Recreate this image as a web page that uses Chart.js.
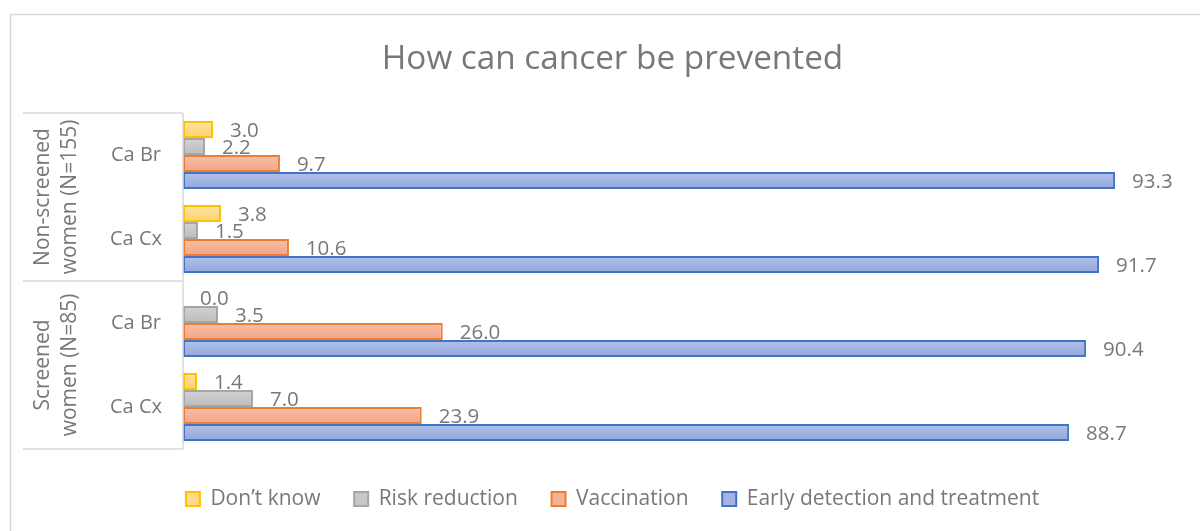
<!DOCTYPE html>
<html>
<head>
<meta charset="utf-8">
<script src="https://cdn.jsdelivr.net/npm/chart.js@4/dist/chart.umd.min.js"></script>
<style>
html,body{margin:0;padding:0;background:#fff;}
#wrap{width:1200px;height:531px;position:relative;}
</style>
</head>
<body>
<div id="wrap"><canvas id="c" width="1200" height="531"></canvas></div>
<script>
const chartTitle = 'How can cancer be prevented';
const categories = ['Ca Br', 'Ca Cx', 'Ca Br', 'Ca Cx'];
const groupLabels = [['Non-screened', 'women (N=155)'], ['Screened', 'women (N=85)']];
const groupSizes = [2, 2];
const seriesNames = ['Don\u2019t know', 'Risk reduction', 'Vaccination', 'Early detection and treatment'];
const dontKnow = [3.0, 3.8, 0.0, 1.4];
const riskReduction = [2.2, 1.5, 3.5, 7.0];
const vaccination = [9.7, 10.6, 26.0, 23.9];
const earlyDetection = [93.3, 91.7, 90.4, 88.7];

const FONT = "'Open Sans', 'DejaVu Sans', sans-serif";
const TXT = '#787878';
const LINE = '#d9d9d9';

const fillTop = ['#FFE3A3', '#D2D2D2', '#F8C0A8', '#B2C2E9'];
const fillBottom = ['#FFD26E', '#BCBCBC', '#F2A387', '#91A7DB'];
const fills = ['#FFDA88', '#C8C8C8', '#F5B298', '#A2B4E2'];
const borders = ['#FFC000', '#A5A5A5', '#ED7D31', '#4472C4'];
const values = [dontKnow, riskReduction, vaccination, earlyDetection];

function barGradient(ctx, di) {
  const chart = ctx.chart;
  const ys = chart.scales && chart.scales.y;
  if (!ys || ctx.type !== 'data' || !chart.chartArea) return fills[di];
  const center = ys.getPixelForValue(ctx.dataIndex);
  const band = chart.chartArea.height / categories.length;
  const bh = band * 0.81 / seriesNames.length;
  const top = center - band * 0.81 / 2 + di * bh;
  const g = chart.ctx.createLinearGradient(0, top, 0, top + bh);
  g.addColorStop(0, fillTop[di]);
  g.addColorStop(1, fillBottom[di]);
  return g;
}

const frame = {
  id: 'frame',
  beforeDraw(chart) {
    const ctx = chart.ctx;
    ctx.save();
    ctx.strokeStyle = LINE;
    ctx.lineWidth = 1.5;
    ctx.strokeRect(10.5, 14.5, 1220, 600);
    ctx.restore();
  }
};

const leftTable = {
  id: 'leftTable',
  afterDraw(chart) {
    const ctx = chart.ctx;
    const a = chart.chartArea;
    const y = chart.scales.y;
    const band = (y.getPixelForValue(1) - y.getPixelForValue(0));
    ctx.save();
    ctx.strokeStyle = LINE;
    ctx.lineWidth = 1.5;
    ctx.beginPath();
    ctx.moveTo(a.left, a.top);
    ctx.lineTo(a.left, a.bottom);
    ctx.stroke();
    let idx = 0;
    const bounds = [a.top];
    groupSizes.forEach(n => { idx += n; bounds.push(y.getPixelForValue(idx - 1) + band / 2); });
    bounds.forEach(b => {
      ctx.beginPath();
      ctx.moveTo(23, b);
      ctx.lineTo(a.left, b);
      ctx.stroke();
    });
    ctx.fillStyle = TXT;
    ctx.font = '20px ' + FONT;
    ctx.textAlign = 'center';
    ctx.textBaseline = 'middle';
    categories.forEach((c, i) => {
      ctx.fillText(c, 136, y.getPixelForValue(i));
    });
    ctx.font = '21px ' + FONT;
    for (let g = 0; g < groupLabels.length; g++) {
      const cy = (bounds[g] + bounds[g + 1]) / 2;
      const xs = [43, 70];
      groupLabels[g].forEach((t, k) => {
        ctx.save();
        ctx.translate(xs[k], cy);
        ctx.rotate(-Math.PI / 2);
        ctx.fillText(t, 0, 0);
        ctx.restore();
      });
    }
    ctx.restore();
  }
};

const valueLabels = {
  id: 'valueLabels',
  beforeDatasetsDraw(chart) {
    const ctx = chart.ctx;
    ctx.save();
    ctx.fillStyle = TXT;
    ctx.font = '20.5px ' + FONT;
    ctx.textAlign = 'left';
    ctx.textBaseline = 'middle';
    chart.data.datasets.forEach((ds, di) => {
      const meta = chart.getDatasetMeta(di);
      meta.data.forEach((bar, i) => {
        ctx.fillText(ds.data[i].toFixed(1), bar.x + 17, bar.y + 2);
      });
    });
    ctx.restore();
  }
};

new Chart(document.getElementById('c'), {
  type: 'bar',
  data: {
    labels: categories,
    datasets: seriesNames.map((n, i) => ({
      label: n,
      data: values[i],
      backgroundColor: (ctx) => ctx.type === 'data' ? barGradient(ctx, i) : fills[i],
      borderColor: borders[i],
      borderWidth: 2,
      borderSkipped: false,
      categoryPercentage: 0.81,
      barPercentage: 1.0
    }))
  },
  options: {
    indexAxis: 'y',
    responsive: false,
    animation: false,
    layout: { padding: { left: 43, right: 18, top: 0, bottom: 11.5 } },
    scales: {
      x: {
        min: 0, max: 100,
        grid: { display: false },
        border: { display: false },
        ticks: { display: false },
        afterFit(s) { s.height = 5.8; }
      },
      y: {
        grid: { display: false },
        border: { display: false },
        ticks: { display: false },
        afterFit(s) { s.width = 140; }
      }
    },
    plugins: {
      tooltip: { enabled: false },
      title: {
        display: true,
        text: chartTitle,
        color: TXT,
        font: { family: FONT, size: 33.3, weight: 'normal' },
        padding: { top: 40, bottom: 33 }
      },
      legend: {
        position: 'bottom',
        labels: {
          color: TXT,
          font: { family: FONT, size: 21 },
          boxWidth: 14,
          boxHeight: 14,
          padding: 33.7,
          generateLabels(chart) {
            return chart.data.datasets.map((ds, i) => ({
              text: ds.label,
              fillStyle: fills[i],
              strokeStyle: borders[i],
              lineWidth: 2,
              fontColor: TXT,
              hidden: false,
              datasetIndex: i
            }));
          }
        }
      }
    }
  },
  plugins: [frame, leftTable, valueLabels]
});
</script>
</body>
</html>
